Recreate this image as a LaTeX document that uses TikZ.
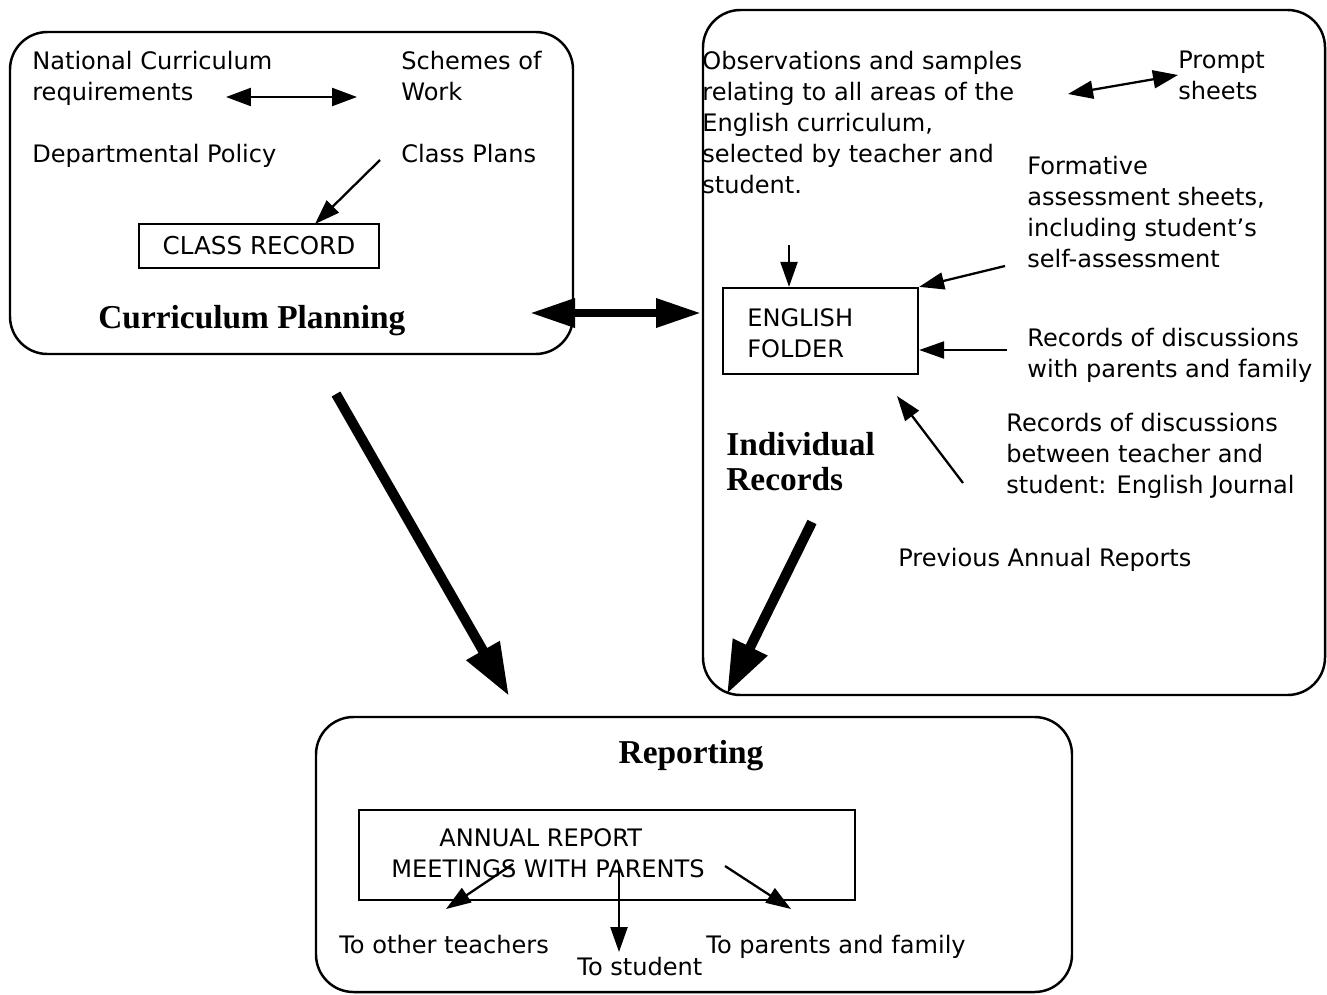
\documentclass[tikz,border=0pt]{standalone}
\usepackage{fontspec}
\setmainfont{DejaVu Sans}
\newfontfamily\titlefont{Liberation Serif}
\usetikzlibrary{arrows.meta}
\tikzset{
  box/.style={draw, line width=1.4pt, rounded corners=0.75cm},
  rect/.style={draw, line width=1.3pt},
  txt/.style={anchor=base west, inner sep=0pt, align=left, font=\fontsize{13.7}{17.64}\selectfont},
  ttl/.style={anchor=base west, inner sep=0pt, align=left, font=\titlefont\bfseries\fontsize{19}{19.9}\selectfont},
  thin/.style={line width=1.3pt, -{Triangle[length=0.5cm,width=0.34cm]}},
  thinboth/.style={line width=1.3pt, {Triangle[length=0.5cm,width=0.36cm]}-{Triangle[length=0.5cm,width=0.36cm]}},
  fat/.style={line width=0.2cm, -{Triangle[length=1.05cm,width=0.72cm]}},
  fatboth/.style={line width=0.16cm, {Triangle[length=0.9cm,width=0.55cm]}-{Triangle[length=0.9cm,width=0.55cm]}}
}
\begin{document}
\begin{tikzpicture}[x=0.02cm,y=-0.02cm]
\useasboundingbox (0,0) rectangle (1327,994);
% boxes
\draw[box] (10,32) rectangle (573,354);
\draw[box] (703,10) rectangle (1325,695);
\draw[box] (316,717) rectangle (1072,992);

% left box
\node[txt] (ncr) at (32,100) {National Curriculum\\requirements};
\node[txt] (sow) at (401,100) {Schemes of\\Work};
\node[txt] (dp) at (32,162) {Departmental Policy};
\node[txt] (cp) at (401,162) {Class Plans};
\node[rect, minimum width=4.8cm, minimum height=0.88cm, inner sep=0pt,
      font=\fontsize{14}{16}\selectfont] (cr) at (259,246) {CLASS RECORD};
\node[ttl] (cpl) at (98,328) {Curriculum Planning};
\coordinate (a1s) at (226,97);
\coordinate (a1e) at (357,97);
\draw[thinboth] (a1s) -- (a1e);
\coordinate (a2s) at (380,160);
\coordinate (a2e) at (315,224);
\draw[thin] (a2s) -- (a2e);

% link between top boxes
\coordinate (l1) at (530,313);
\coordinate (l2) at (701,313);
\draw[fatboth] (l1) -- (l2);

% right box
\node[txt] (obs) at (702,193) {Observations and samples\\relating to all areas of the\\English curriculum,\\selected by teacher and\\student.};
\node[txt] (ps) at (1178,99) {Prompt\\sheets};
\coordinate (p1) at (1068,94);
\coordinate (p2) at (1178,75);
\draw[thinboth] (p1) -- (p2);
\node[txt] (fas) at (1027,267) {Formative\\assessment sheets,\\including student's\\self-assessment};
\node[rect, minimum width=3.9cm, minimum height=1.72cm, inner sep=0pt] (ef) at (820.5,331) {};
\node[txt] (eft) at (747,357) {ENGLISH\\FOLDER};
\coordinate (d1) at (789,245);
\draw[thin] (d1) -- (ef.north -| d1);
\coordinate (f1) at (1005,266);
\draw[thin] (f1) -- (ef.north east);
\node[txt] (rdp) at (1027,377) {Records of discussions\\with parents and family};
\coordinate (r1) at (1007,350);
\draw[thin] (r1) -- (ef.east |- r1);
\node[txt] (rdt) at (1006,493) {Records of discussions\\between teacher and\\student: English Journal};
\coordinate (j1) at (963,483);
\coordinate (j2) at (897,396);
\draw[thin] (j1) -- (j2);
\node[ttl] (ir) at (726,490) {Individual\\Records};
\node[txt] (par) at (898,566) {Previous Annual Reports};

% fat arrows to Reporting
\coordinate (t1) at (336,394);
\coordinate (t2) at (509,696);
\draw[fat] (t1) -- (t2);
\coordinate (u1) at (812,522);
\coordinate (u2) at (727,694);
\draw[fat] (u1) -- (u2);

% bottom box
\node[ttl, anchor=base] (rep) at (691,763) {Reporting};
\node[rect, minimum width=9.92cm, minimum height=1.8cm, inner sep=0pt] (ar) at (607,855) {};
\node[txt] (art) at (439,846) {ANNUAL REPORT};
\node[txt] (mwp) at (391,877) {MEETINGS WITH PARENTS};
\coordinate (b1) at (513,864);
\coordinate (b2) at (446,909);
\draw[thin] (b1) -- (b2);
\coordinate (c1) at (619,864);
\coordinate (c2) at (619,952);
\draw[thin] (c1) -- (c2);
\coordinate (e1) at (725,866);
\coordinate (e2) at (791,909);
\draw[thin] (e1) -- (e2);
\node[txt] (tot) at (339,953) {To other teachers};
\node[txt] (tst) at (577,975) {To student};
\node[txt] (tpf) at (706,953) {To parents and family};
\end{tikzpicture}
\end{document}
